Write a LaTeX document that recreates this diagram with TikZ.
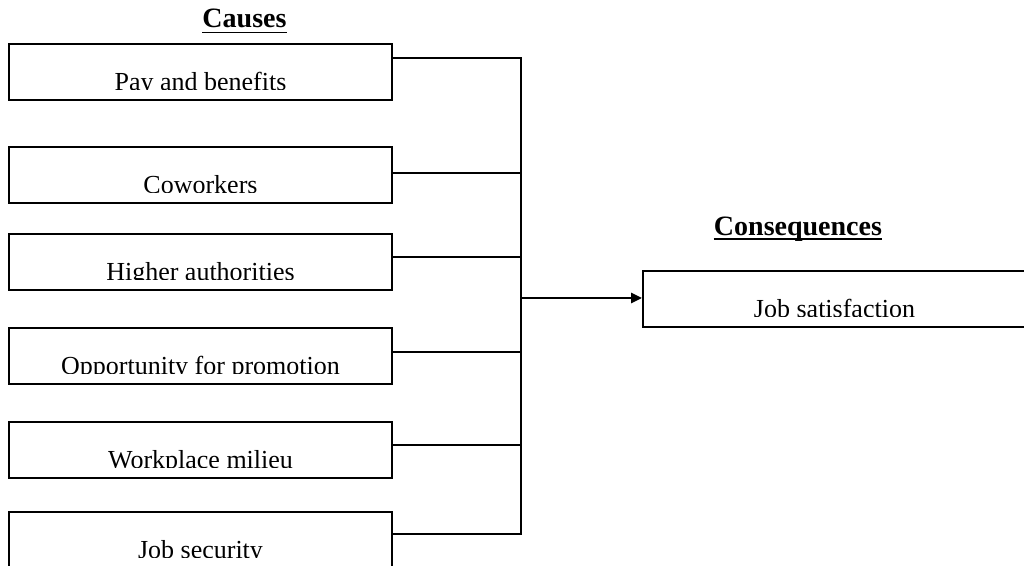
\documentclass[tikz,border=0pt]{standalone}
\usepackage{fontspec}
\setmainfont{Liberation Serif}
\usetikzlibrary{arrows.meta}
\newcommand{\boxfont}{\fontsize{13}{15}\selectfont}
\newcommand{\headfont}{\fontsize{14}{16}\selectfont\bfseries}
\tikzset{
  factor/.style={draw, line width=1pt, minimum width=191.5pt, minimum height=28.25pt,
    inner sep=0pt, path picture={
      \clip (path picture bounding box.north west)
        rectangle ([yshift=-23pt]path picture bounding box.north east);
      \node[anchor=base, font=\boxfont, inner sep=0pt]
        at ([yshift=-23.25pt]path picture bounding box.north) {#1};
    }},
  heading/.style={font=\headfont, inner sep=0pt, anchor=base},
  link/.style={line width=0.9pt},
}

\begin{document}
\begin{tikzpicture}[x=0.5pt, y=-0.5pt]
  \useasboundingbox (0,0) rectangle (1024,566);

  \node[heading] (causes) at (244.5,28) {Causes};
  \node[heading] (conseq) at (798,236) {Consequences};
  \draw[line width=0.75pt] ([yshift=-2.2pt]causes.base west) -- ([yshift=-2.2pt]causes.base east);
  \draw[line width=0.75pt] ([yshift=-1.6pt]conseq.base west) -- ([yshift=-1.6pt]conseq.base east);

  % causes
  \node[factor=Pay and benefits] (pay) at (200.5,72.25) {};
  \node[factor=Coworkers] (cowork) at (200.5,175.25) {};
  \node[factor=Higher authorities] (higher) at (200.5,262.25) {};
  \node[factor=Opportunity for promotion] (promo) at (200.5,356.25) {};
  \node[factor=Workplace milieu] (milieu) at (200.5,450.25) {};
  \node[factor=Job security] (secure) at (200.5,540.25) {};

  % consequence
  \node[factor=Job satisfaction] (jobsat) at (834.5,299.25) {};

  \foreach \f/\y [count=\i] in {pay/58, cowork/173, higher/257, promo/352, milieu/445, secure/534}
    \coordinate (bus\i) at (521,\y);
  \draw[link] (pay.east |- bus1) -- (bus1) -- (bus6) -- (secure.east |- bus6);
  \foreach \f/\i in {cowork/2, higher/3, promo/4, milieu/5}
    \draw[link] (\f.east |- bus\i) -- (bus\i);

  \coordinate (hub) at (521,298);
  \draw[line width=1.3pt, -{Triangle[length=5.5pt,width=5pt]}] (hub) -- (hub -| jobsat.west);
\end{tikzpicture}
\end{document}
